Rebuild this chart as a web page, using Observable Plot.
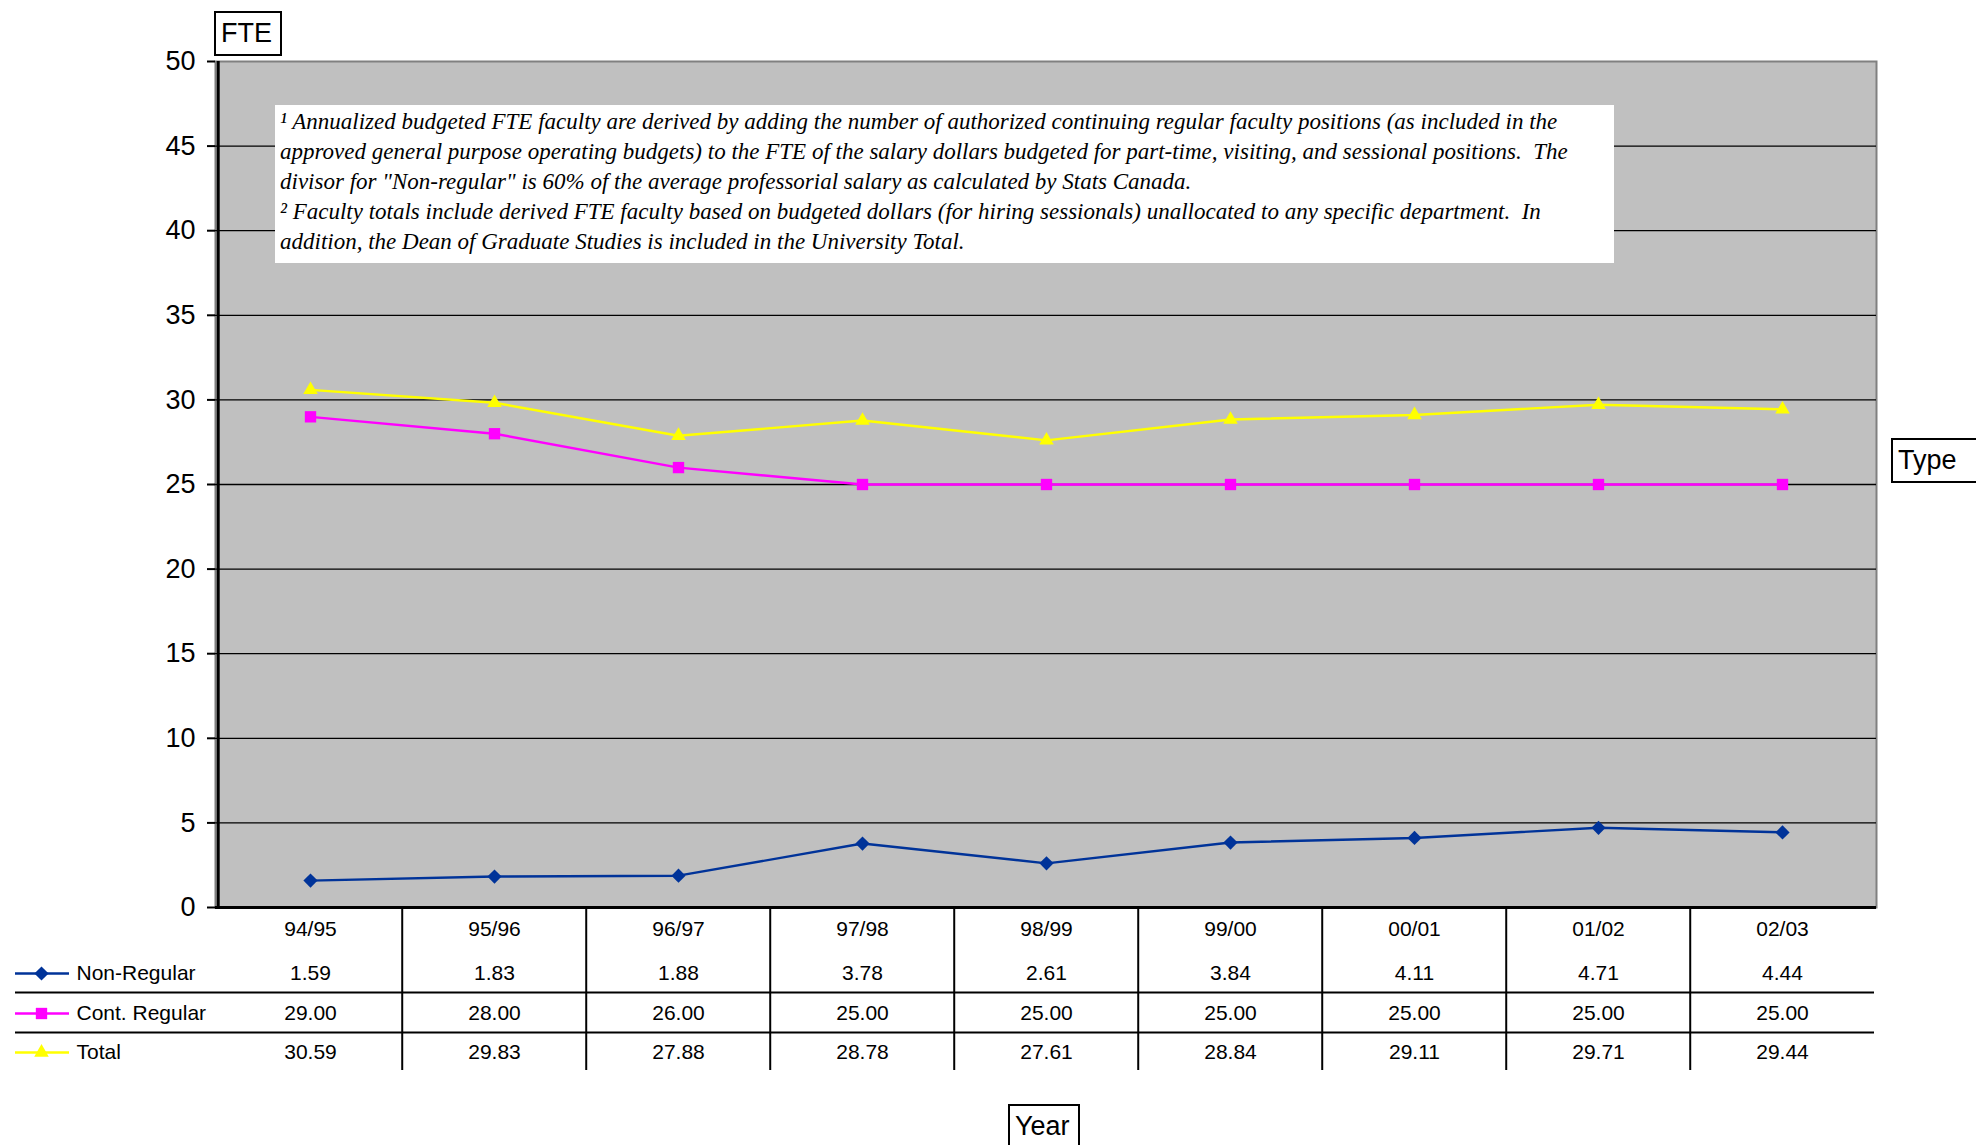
<!DOCTYPE html>
<html>
<head>
<meta charset="utf-8">
<script src="https://cdn.jsdelivr.net/npm/d3@7"></script>
<script src="https://cdn.jsdelivr.net/npm/@observablehq/plot@0.6"></script>
<style>
  html, body { margin: 0; padding: 0; background: #fff; }
  #wrap { position: relative; width: 1976px; height: 1145px; overflow: hidden; font-family: "Liberation Sans", Arial, sans-serif; }
  .box { position: absolute; border: 2px solid #000; background: #fff; font-size: 27px; line-height: 40px; padding: 0 5px; box-sizing: border-box; white-space: nowrap; }
  #note { position: absolute; left: 275px; top: 105px; width: 1339px; height: 158px; background: #fff;
          font-family: "Liberation Serif", "Times New Roman", serif; font-style: italic; font-size: 23px;
          line-height: 30px; padding: 2px 0 0 5px; box-sizing: border-box; white-space: pre; color: #000; }
</style>
</head>
<body>
<div id="wrap"></div>
<script>
// ---- data ----
const years = ["94/95", "95/96", "96/97", "97/98", "98/99", "99/00", "00/01", "01/02", "02/03"];
const nonRegular = [1.59, 1.83, 1.88, 3.78, 2.61, 3.84, 4.11, 4.71, 4.44];
const contRegular = [29.00, 28.00, 26.00, 25.00, 25.00, 25.00, 25.00, 25.00, 25.00];
const total = [30.59, 29.83, 27.88, 28.78, 27.61, 28.84, 29.11, 29.71, 29.44];
const seriesNames = ["Non-Regular", "Cont. Regular", "Total"];
const seriesColors = ["#003399", "#ff00ff", "#ffff00"];
const seriesSymbols = ["diamond2", "square", "triangle"];
const yTicks = [0, 5, 10, 15, 20, 25, 30, 35, 40, 45, 50];
const noteLines = [
  "\u00B9 Annualized budgeted FTE faculty are derived by adding the number of authorized continuing regular faculty positions (as included in the",
  "approved general purpose operating budgets) to the FTE of the salary dollars budgeted for part-time, visiting, and sessional positions.  The",
  "divisor for \"Non-regular\" is 60% of the average professorial salary as calculated by Stats Canada.",
  "\u00B2 Faculty totals include derived FTE faculty based on budgeted dollars (for hiring sessionals) unallocated to any specific department.  In",
  "addition, the Dean of Graduate Studies is included in the University Total."
];

// ---- layout ----
const W = 1976, H = 1145;
const mL = 215, mR = 100, mT = 61, mB = 238;
const frameW = W - mL - mR, frameH = H - mT - mB;
const halfStep = frameW / years.length / 2;
const rowDy = [66, 106, 145];
const symR = {diamond2: 6.4, square: 6.4, triangle: 5.4};

const seriesValues = [nonRegular, contRegular, total];
const rows = [];
seriesNames.forEach((s, si) => years.forEach((yr, i) => rows.push({series: s, year: yr, value: seriesValues[si][i]})));

const marks = [
  Plot.frame({fill: "#c0c0c0", stroke: "#808080", strokeWidth: 2}),
  Plot.gridY(yTicks.filter(t => t > 0 && t < 50), {stroke: "#000", strokeOpacity: 1, strokeWidth: 1.3}),
  Plot.ruleY([0], {stroke: "#000", strokeWidth: 3}),
  Plot.ruleX([years[0]], {dx: -halfStep, stroke: "#000", strokeWidth: 3}),
  Plot.axisY(yTicks, {tickSize: 8, tickPadding: 12, fontSize: 27, label: null, stroke: "#000", strokeWidth: 2, color: "#000"}),
  // table: year labels
  Plot.text(years, {x: d => d, text: d => d, frameAnchor: "bottom", lineAnchor: "middle", dy: 22, fontSize: 21, fill: "#000"}),
  // table: vertical separators
  Plot.ruleX(years.slice(1), {x: d => d, dx: -halfStep, insetTop: frameH, insetBottom: -163, stroke: "#000", strokeWidth: 2}),
  // table: horizontal separators
  Plot.ruleY([0], {dy: 85, insetLeft: -(mL - 15), insetRight: 2, stroke: "#000", strokeWidth: 2}),
  Plot.ruleY([0], {dy: 125, insetLeft: -(mL - 15), insetRight: 2, stroke: "#000", strokeWidth: 2}),
];

seriesNames.forEach((s, si) => {
  const data = rows.filter(r => r.series === s);
  const color = seriesColors[si];
  const sym = seriesSymbols[si];
  const r = symR[sym];
  marks.push(
    Plot.line(data, {x: "year", y: "value", stroke: color, strokeWidth: 2.4}),
    Plot.dot(data, {x: "year", y: "value", symbol: sym, r, fill: color, stroke: "none"}),
    // table values
    Plot.text(data, {x: "year", text: d => d.value.toFixed(2), frameAnchor: "bottom", lineAnchor: "middle", dy: rowDy[si], fontSize: 21, fill: "#000"}),
    // legend key
    Plot.ruleY([0], {dy: rowDy[si], insetLeft: -(mL - 15), insetRight: frameW + (mL - 69), stroke: color, strokeWidth: 2.4}),
    Plot.dot([s], {frameAnchor: "bottom-left", dx: 41 - mL, dy: rowDy[si], symbol: sym, r, fill: color, stroke: "none"}),
    Plot.text([s], {text: d => d, frameAnchor: "bottom-left", dx: 76 - mL, dy: rowDy[si], textAnchor: "start", lineAnchor: "middle", fontSize: 21, fill: "#000"})
  );
});

const chart = Plot.plot({
  width: W, height: H,
  marginLeft: mL, marginRight: mR, marginTop: mT, marginBottom: mB,
  style: {fontFamily: "'Liberation Sans', Arial, sans-serif", background: "#fff", color: "#000", overflow: "visible"},
  x: {type: "point", domain: years, padding: 0.5, axis: null},
  y: {domain: [0, 50], axis: null},
  marks
});

const wrap = document.getElementById("wrap");
wrap.appendChild(chart);

function addBox(text, left, top, width, height) {
  const d = document.createElement("div");
  d.className = "box";
  d.textContent = text;
  Object.assign(d.style, {left: left + "px", top: top + "px", width: width + "px", height: height + "px"});
  wrap.appendChild(d);
}
addBox("FTE", 214, 11, 68, 45);
addBox("Type", 1891, 438, 100, 45);
addBox("Year", 1008, 1104, 72, 50);

const note = document.createElement("div");
note.id = "note";
note.textContent = noteLines.join("\n");
wrap.appendChild(note);
</script>
</body>
</html>
